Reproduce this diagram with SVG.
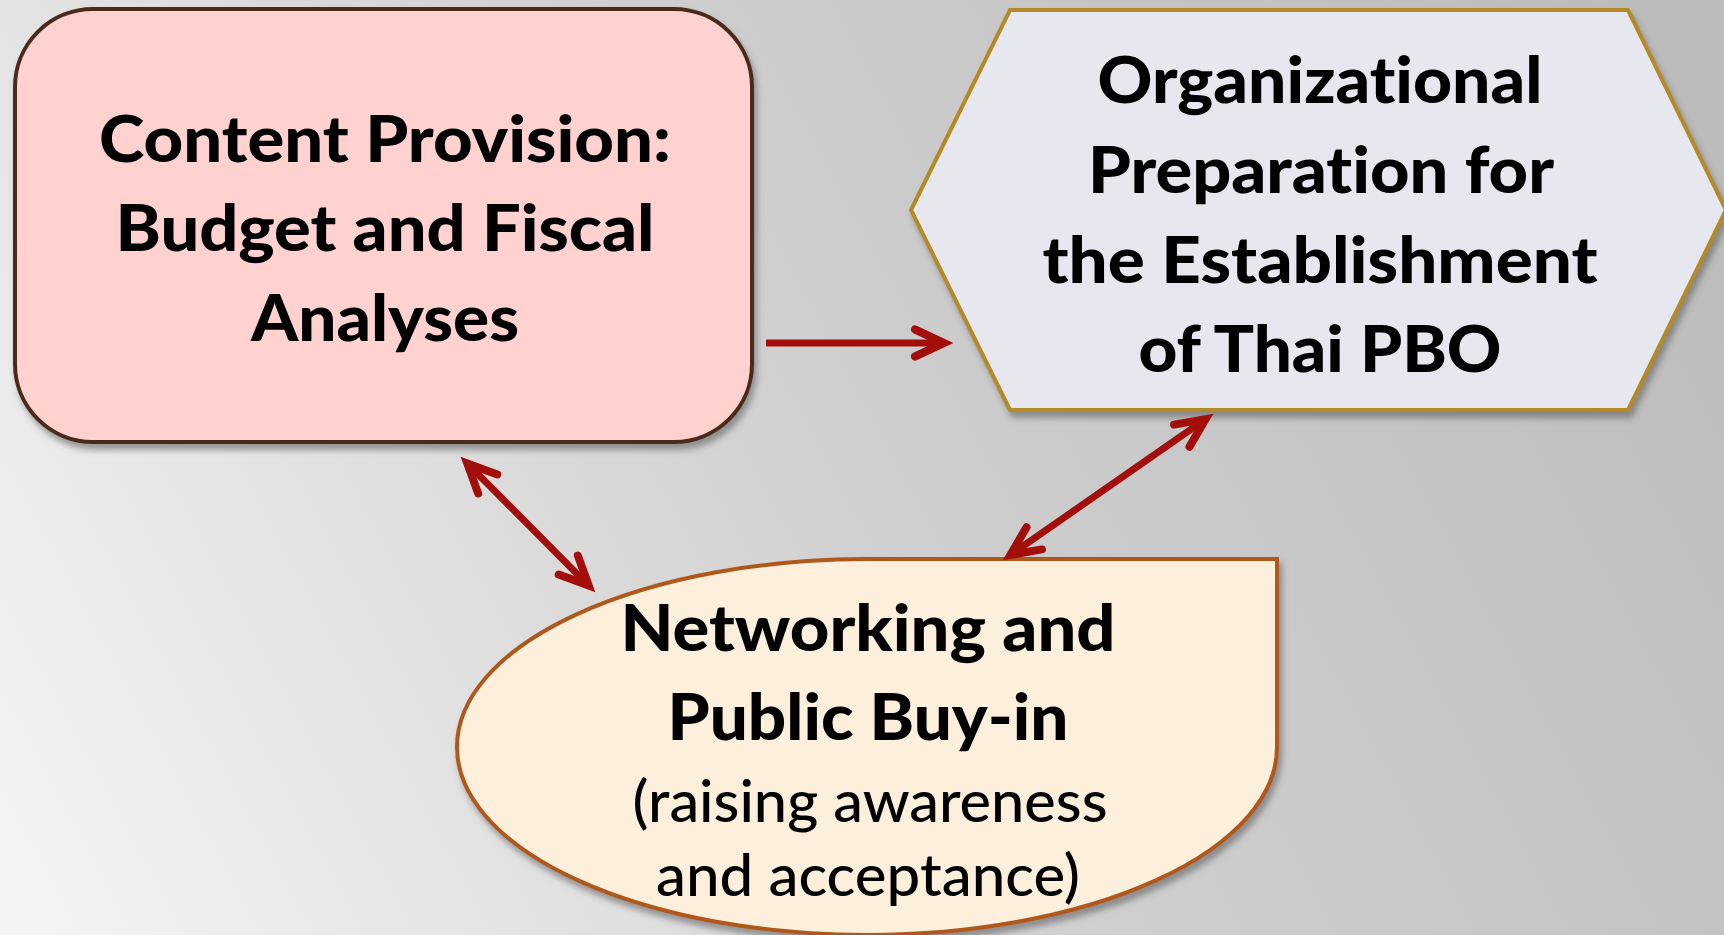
<svg xmlns="http://www.w3.org/2000/svg" width="1724" height="935" viewBox="0 0 1724 935">
  <defs>
    <linearGradient id="bg" x1="0" y1="935" x2="1724" y2="0" gradientUnits="userSpaceOnUse">
      <stop offset="0" stop-color="#f5f5f5"/>
      <stop offset="0.5" stop-color="#cfcfcf"/>
      <stop offset="1" stop-color="#bababa"/>
    </linearGradient>
    <filter id="shadow" x="-10%" y="-10%" width="125%" height="130%">
      <feDropShadow dx="3" dy="6" stdDeviation="3" flood-color="#555" flood-opacity="0.55"/>
    </filter>
    <marker id="head" markerUnits="userSpaceOnUse" viewBox="-40 -20 50 40" refX="0" refY="0" markerWidth="50" markerHeight="40" orient="auto-start-reverse" overflow="visible">
      <path d="M -29,-13.5 L 0,0 L -29,13.5" fill="none" stroke="#a30e0b" stroke-width="8" stroke-linecap="round" stroke-linejoin="miter" stroke-miterlimit="10"/>
    </marker>
    <style>
      text { font-variant-ligatures: none; font-feature-settings: "liga" 0, "clig" 0; }
      .bold { font-family: Lato, "Open Sans", "Liberation Sans", sans-serif; font-weight: 900; font-size: 65px; fill: #000; text-anchor: middle; }
      .reg { font-family: Lato, "Open Sans", "Liberation Sans", sans-serif; font-weight: 500; font-size: 57px; fill: #000; text-anchor: middle; }
      .conn { fill: none; stroke: #a30e0b; stroke-width: 7; stroke-linecap: butt; }
    </style>
  </defs>

  <rect x="0" y="0" width="1724" height="935" fill="url(#bg)"/>

  <g id="content-provision">
    <rect x="15" y="9" width="737" height="433" rx="78" ry="78" fill="#ffd2d0" stroke="#4b2a1e" stroke-width="4" filter="url(#shadow)"/>
    <text class="bold" x="385" y="162" textLength="572" lengthAdjust="spacingAndGlyphs">Content Provision:</text>
    <text class="bold" x="385" y="251" textLength="539" lengthAdjust="spacingAndGlyphs">Budget and Fiscal</text>
    <text class="bold" x="385" y="341" textLength="268" lengthAdjust="spacingAndGlyphs">Analyses</text>
  </g>

  <g id="organizational-preparation">
    <polygon points="911,210 1010,10 1628,10 1726,210 1628,410 1010,410" fill="#e6e7ef" stroke="#b48a26" stroke-width="4" filter="url(#shadow)"/>
    <text class="bold" x="1320" y="103" textLength="445" lengthAdjust="spacingAndGlyphs">Organizational</text>
    <text class="bold" x="1321" y="193" textLength="466" lengthAdjust="spacingAndGlyphs">Preparation for</text>
    <text class="bold" x="1320" y="283" textLength="555" lengthAdjust="spacingAndGlyphs">the Establishment</text>
    <text class="bold" x="1320" y="372" textLength="363" lengthAdjust="spacingAndGlyphs">of Thai PBO</text>
  </g>

  <g id="networking">
    <path d="M 457,747 A 410,188 0 0 1 867,559 L 1277,559 L 1277,747 A 410,188 0 0 1 867,935 A 410,188 0 0 1 457,747 Z" fill="#fcefdb" stroke="#b0581a" stroke-width="4" filter="url(#shadow)"/>
    <text class="bold" x="868" y="651" textLength="495" lengthAdjust="spacingAndGlyphs">Networking and</text>
    <text class="bold" x="868" y="740" textLength="401" lengthAdjust="spacingAndGlyphs">Public Buy-in</text>
    <text class="reg" x="870" y="822" textLength="475" lengthAdjust="spacingAndGlyphs">(raising awareness</text>
    <text class="reg" x="868" y="896" textLength="424" lengthAdjust="spacingAndGlyphs">and acceptance)</text>
  </g>

  <g id="connectors">
    <line class="conn" x1="766" y1="343" x2="944" y2="343" marker-end="url(#head)"/>
    <line class="conn" x1="467.3" y1="463.4" x2="588.7" y2="585.6" marker-start="url(#head)" marker-end="url(#head)"/>
    <line class="conn" x1="1010.4" y1="554.9" x2="1205.6" y2="419.1" marker-start="url(#head)" marker-end="url(#head)"/>
  </g>
</svg>
